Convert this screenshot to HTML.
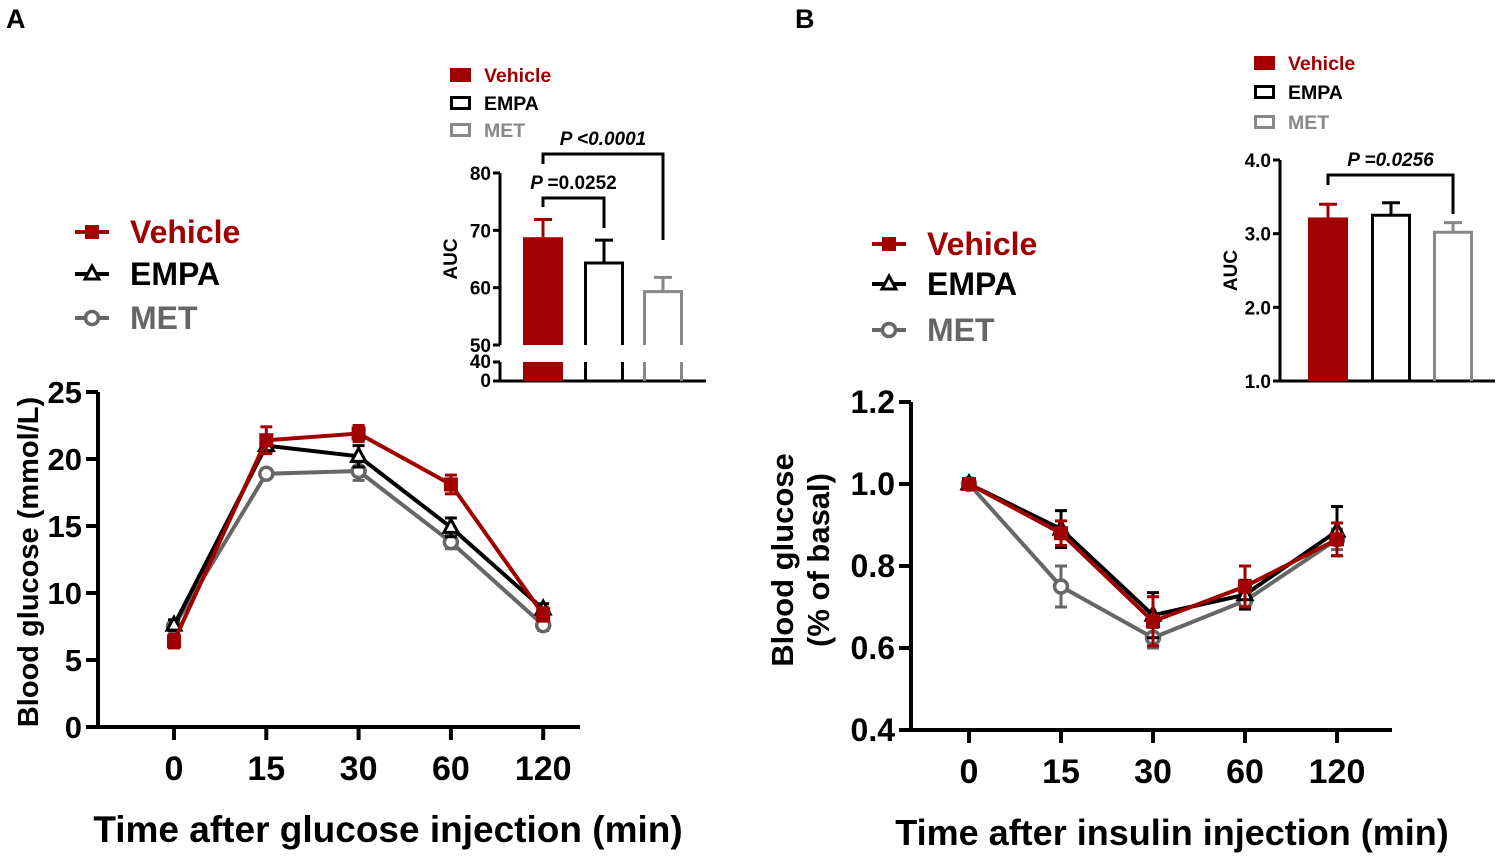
<!DOCTYPE html>
<html><head><meta charset="utf-8"><style>
html,body{margin:0;padding:0;background:#fff;}
svg{display:block;font-family:"Liberation Sans",Arial,sans-serif;font-weight:bold;}
</style></head><body>
<svg id="fig" width="1503" height="858" viewBox="0 0 1503 858"></svg>
<script>
const timeLabels=["0","15","30","60","120"];
const groups=["Vehicle","EMPA","MET"];
const ogttVehicle=[6.4,21.4,21.9,18.1,8.4];
const ogttVehicleErr=[0.5,1.0,0.6,0.7,0.5];
const ogttEmpa=[7.6,21.0,20.2,14.9,8.8];
const ogttEmpaErr=[0.4,0.5,0.8,0.7,0.4];
const ogttMet=[7.5,18.9,19.1,13.8,7.6];
const ogttMetErr=[0.3,0.3,0.7,0.5,0.4];
const ogttTicks=[0,5,10,15,20,25];
const ittVehicle=[1.0,0.88,0.665,0.75,0.865];
const ittVehicleErr=[0.005,0.03,0.06,0.05,0.04];
const ittEmpa=[1.0,0.89,0.68,0.73,0.885];
const ittEmpaErr=[0.005,0.045,0.055,0.035,0.06];
const ittMet=[1.0,0.75,0.625,0.715,0.865];
const ittMetErr=[0.005,0.05,0.025,0.02,0.025];
const ittTicks=[0.4,0.6,0.8,1.0,1.2];
const aucA=[68.8,64.3,59.3];
const aucAErr=[3.1,4.0,2.5];
const aucATicks=[50,60,70,80];
const aucB=[3.22,3.25,3.02];
const aucBErr=[0.18,0.17,0.13];
const aucBTicks=[1.0,2.0,3.0,4.0];

const NS="http://www.w3.org/2000/svg";
const svg=document.getElementById("fig");
const RED="#a00000",BLK="#000",GRY="#666",GRY2="#888";
function mk(tag,attrs,parent){const e=document.createElementNS(NS,tag);for(const k in attrs)e.setAttribute(k,attrs[k]);(parent||svg).appendChild(e);return e;}
function txt(x,y,s,size,attrs,parent){const t=mk("text",Object.assign({x:x,y:y,"font-size":size},attrs||{}),parent);t.textContent=s;return t;}
function line(x1,y1,x2,y2,c,w,parent){return mk("line",{x1,y1,x2,y2,stroke:c,"stroke-width":w},parent);}

let t=txt(6,28,"A",27);
t=txt(795,28,"B",27);

function marker(g,type,x,y,c){
  if(type==="sq")mk("rect",{x:x-7,y:y-7,width:14,height:14,fill:c},g);
  else if(type==="tri")mk("path",{d:`M${x},${y-8} L${x+7},${y+5} L${x-7},${y+5} Z`,fill:"#fff",stroke:c,"stroke-width":3},g);
  else mk("circle",{cx:x,cy:y,r:6.5,fill:"#fff",stroke:c,"stroke-width":3.5},g);
}

function linePanel(p){
  const g=mk("g",{});
  
  
  const ys=v=>p.y0+(v-p.vmin)/(p.vmax-p.vmin)*(p.y1-p.y0);
  const xs=i=>p.xs0+i*p.dx;
  const ya=line(p.ax,p.y1,p.ax,p.y0+2,BLK,4,g);
  
  p.ticks.forEach(v=>{line(p.ax-12,ys(v),p.ax,ys(v),BLK,4,g);
    const tt=txt(p.ax-16,ys(v)+11,p.fmt(v),p.tksize,{"text-anchor":"end"},g);
    });
  const xa=line(p.ax-12,p.y0,p.xend,p.y0,BLK,4,g);
  
  timeLabels.forEach((s,i)=>{line(xs(i),p.y0,xs(i),p.y0+13,BLK,4,g);
    const tt=txt(xs(i),p.y0+53,s,34,{"text-anchor":"middle"},g);
    });
  const xt=txt(p.xtx,p.y0+115,p.xtitle,p.xtsize,{"text-anchor":"middle"},g);
  
  p.ytitle.forEach((s,k)=>{const yt=txt(0,0,s,p.ytsize,{"text-anchor":"middle",transform:`translate(${p.ytx+k*36},${p.ytc}) rotate(-90)`},g);
    });
  const series=[[p.met,p.metErr,GRY,"circ","met"],[p.empa,p.empaErr,BLK,"tri","empa"],[p.veh,p.vehErr,RED,"sq","vehicle"]];
  series.forEach(([vals,errs,c,m,n])=>{
    const sg=mk("g",{},g);
    
    mk("polyline",{points:vals.map((v,i)=>xs(i)+","+ys(v)).join(" "),fill:"none",stroke:c,"stroke-width":4},sg);
    vals.forEach((v,i)=>{const x=xs(i),e=errs[i];
      line(x,ys(v-e),x,ys(v+e),c,3,sg);line(x-6,ys(v+e),x+6,ys(v+e),c,3,sg);line(x-6,ys(v-e),x+6,ys(v-e),c,3,sg);
      marker(sg,m,x,ys(v),c);});
  });
  const items=[["Vehicle",RED,"sq"],["EMPA",BLK,"tri"],["MET",GRY,"circ"]];
  items.forEach(([s,c,m],k)=>{const lg=mk("g",{},g);
    
    const y=p.legY[k];line(p.legX,y,p.legX+34,y,c,4,lg);marker(lg,m,p.legX+17,y,c);
    txt(p.legX+55,y+11,s,32,{fill:c},lg);});
}

linePanel({name:"ogtt-chart",ax:98,y0:727,y1:392,vmin:0,vmax:25,ticks:ogttTicks,fmt:v=>String(v),tksize:31,
  xs0:174,dx:92.3,xend:580,xtx:388,xtsize:37,xtitle:"Time after glucose injection (min)",ytitle:["Blood glucose (mmol/L)"],ytx:38,ytc:562,ytsize:29,
  veh:ogttVehicle,vehErr:ogttVehicleErr,empa:ogttEmpa,empaErr:ogttEmpaErr,met:ogttMet,metErr:ogttMetErr,
  legX:75,legY:[232,274,318]});
linePanel({name:"itt-chart",ax:911,y0:730,y1:402,vmin:0.4,vmax:1.2,ticks:ittTicks,fmt:v=>v.toFixed(1),tksize:32,
  xs0:969,dx:92,xend:1392,xtx:1172,xtsize:36,xtitle:"Time after insulin injection (min)",ytitle:["Blood glucose","(% of basal)"],ytx:793,ytc:560,ytsize:31,
  veh:ittVehicle,vehErr:ittVehicleErr,empa:ittEmpa,empaErr:ittEmpaErr,met:ittMet,metErr:ittMetErr,
  legX:872,legY:[244,284,330]});

function barPanel(p){
  const g=mk("g",{});
  
  const ys=v=>p.yb+(v-p.vmin)/(p.vmax-p.vmin)*(p.yt-p.yb);
  line(p.ax,p.ys(p.ticks[0]),p.ax,ys(p.ticks[p.ticks.length-1]),BLK,3,g);
  p.ticks.forEach(v=>{line(p.ax-7,ys(v),p.ax,ys(v),BLK,3,g);
    const tt=txt(p.ax-9,ys(v)+7,p.fmt(v),19,{"text-anchor":"end"},g);
    });
  if(p.brk){line(p.ax,p.axisY,p.ax,p.axisY-19,BLK,3,g);line(p.ax-7,p.axisY-19,p.ax,p.axisY-19,BLK,3,g);line(p.ax-7,p.axisY,p.ax,p.axisY,BLK,3,g);
    txt(p.ax-9,p.axisY-13,"40",19,{"text-anchor":"end"},g);txt(p.ax-9,p.axisY+6,"0",19,{"text-anchor":"end"},g);}
  const ax=line(p.ax-2,p.axisY,p.xend,p.axisY,BLK,3,g);
  
  const yl=txt(0,0,"AUC",19,{"text-anchor":"middle",transform:`translate(${p.ax-43},${(ys(p.ticks[0])+ys(p.ticks[p.ticks.length-1]))/2}) rotate(-90)`},g);
  
  const cols=[RED,BLK,GRY2];
  p.vals.forEach((v,i)=>{const x=p.bx[i],w=p.bw,c=cols[i];const bg=mk("g",{},g);
    
    const top=ys(v),e=ys(v+p.errs[i]);
    line(x+w/2,top,x+w/2,e,c,3,bg);line(x+w/2-9,e,x+w/2+9,e,c,3,bg);
    if(i===0){mk("rect",{x:x,y:top,width:w,height:p.ys(p.ticks[0])-top,fill:RED},bg);
      if(p.brk)mk("rect",{x:x,y:p.axisY-19,width:w,height:19,fill:RED},bg);}
    else{mk("path",{d:`M${x+1.5},${p.ys(p.ticks[0])} V${top} H${x+w-1.5} V${p.ys(p.ticks[0])}`,fill:"none",stroke:c,"stroke-width":3},bg);
      if(p.brk){line(x+1.5,p.axisY-19,x+1.5,p.axisY,c,3,bg);line(x+w-1.5,p.axisY-19,x+w-1.5,p.axisY,c,3,bg);}}
  });
  p.vals.forEach((v,i)=>{const lg=mk("g",{},g);
    
    const y=p.legY[i];
    if(i===0)mk("rect",{x:p.legX,y:y-7,width:21,height:14,fill:RED},lg);
    else mk("rect",{x:p.legX+1.5,y:y-5.5,width:18,height:11,fill:"none",stroke:cols[i],"stroke-width":3},lg);
    txt(p.legX+34,y+7,groups[i],19.5,{fill:i===2?GRY2:cols[i]},lg);});
  p.sig.forEach(s=>{const sg=mk("g",{},g);
    
    const x1=p.bx[s.a]+p.bw/2,x2=p.bx[s.b]+p.bw/2;
    mk("path",{d:`M${x1},${s.y1} V${s.y} H${x2} V${s.y2}`,fill:"none",stroke:BLK,"stroke-width":3},sg);
    const tt=txt((x1+x2)/2,s.y-9,"",19,{"text-anchor":"middle"},sg);
    const ts=document.createElementNS(NS,"tspan");ts.setAttribute("font-style","italic");ts.textContent="P ";tt.appendChild(ts);
    const ts2=document.createElementNS(NS,"tspan");if(s.it)ts2.setAttribute("font-style","italic");ts2.textContent=s.label;tt.appendChild(ts2);});
}
const ysA=v=>345+(v-50)/30*(173-345);
barPanel({name:"auc-chart-a",ax:500,yb:345,yt:173,vmin:50,vmax:80,ys:ysA,ticks:aucATicks,fmt:v=>String(v),axisY:381,brk:true,xend:706,
  vals:aucA,errs:aucAErr,bx:[523,584,643],bw:40,legX:450,legY:[75,103,130],
  sig:[{a:0,b:1,y:198,y1:207,y2:228,label:"=0.0252",it:false},{a:0,b:2,y:154,y1:164,y2:240,label:"<0.0001",it:true}]});
const ysB=v=>381+(v-1)/3*(160-381);
barPanel({name:"auc-chart-b",ax:1280,yb:381,yt:160,vmin:1,vmax:4,ys:ysB,ticks:aucBTicks,fmt:v=>v.toFixed(1),axisY:381,brk:false,xend:1495,
  vals:aucB,errs:aucBErr,bx:[1308,1371,1433],bw:40,legX:1254,legY:[63,92,122],
  sig:[{a:0,b:2,y:175,y1:185,y2:214,label:"=0.0256",it:true}]});
</script>
</body></html>
